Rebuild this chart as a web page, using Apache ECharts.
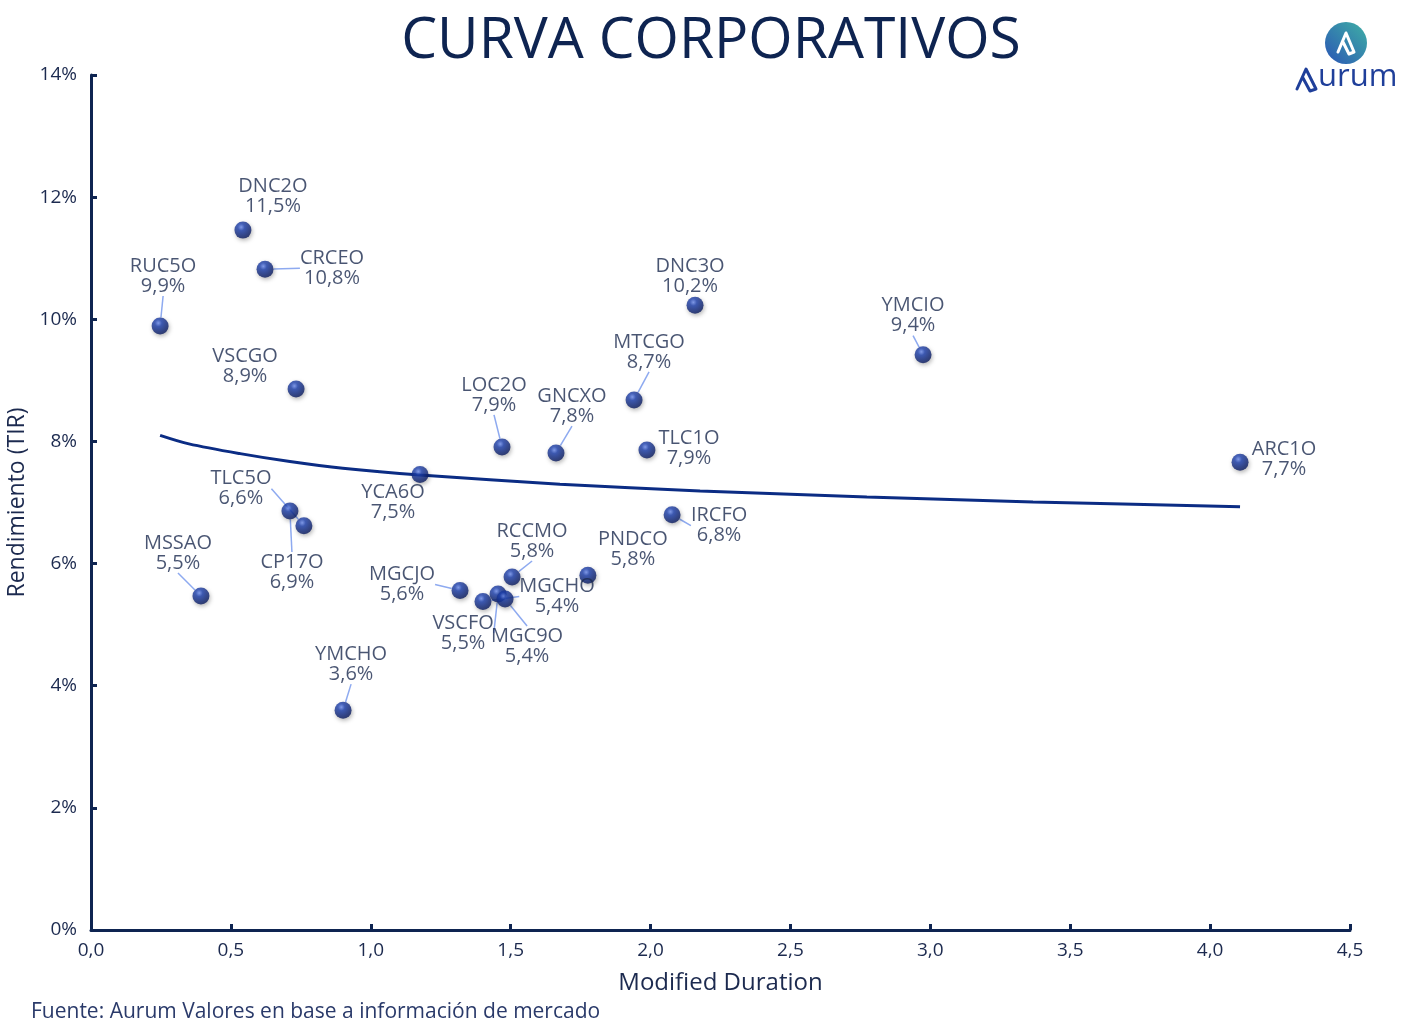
<!DOCTYPE html>
<html>
<head>
<meta charset="utf-8">
<script src="https://cdn.jsdelivr.net/npm/echarts@6/dist/echarts.min.js"></script>
<style>
  html, body { margin: 0; padding: 0; background: #fff; }
  #main { width: 1422px; height: 1033px; }
</style>
</head>
<body>
<div id="main"></div>
<script>
// bonos corporativos: nombre, duration modificada y TIR (%)
var names = ['DNC2O', 'CRCEO', 'RUC5O', 'VSCGO', 'YCA6O', 'TLC5O', 'CP17O', 'MSSAO', 'YMCHO', 'LOC2O', 'GNCXO',
  'MTCGO', 'DNC3O', 'TLC1O', 'IRCFO', 'PNDCO', 'RCCMO', 'MGCJO', 'VSCFO', 'MGCHO', 'MGC9O', 'YMCIO', 'ARC1O'];
var duration = [0.543, 0.622, 0.247, 0.733, 1.176, 0.761, 0.711, 0.393, 0.901, 1.469, 1.662,
  1.941, 2.159, 1.987, 2.077, 1.776, 1.505, 1.319, 1.455, 1.401, 1.480, 2.974, 4.107];
var yields = [11.46, 10.82, 9.89, 8.86, 7.46, 6.62, 6.86, 5.47, 3.60, 7.91, 7.81,
  8.68, 10.23, 7.86, 6.80, 5.81, 5.78, 5.56, 5.50, 5.38, 5.42, 9.42, 7.66];

// curva
var curveX = [0.247, 0.35, 0.533, 0.711, 0.9, 1.176, 1.676, 2.177, 2.773, 3.367, 4.107];
var curveY = [8.10, 7.96, 7.80, 7.67, 7.56, 7.45, 7.30, 7.19, 7.09, 7.01, 6.93];

// ejes
var xTicks = [0, 0.5, 1, 1.5, 2, 2.5, 3, 3.5, 4, 4.5];
var yTicks = [0, 2, 4, 6, 8, 10, 12, 14];

// posicion de etiquetas (px respecto al punto) y si llevan linea guia
var labelOffset = [[30, -34], [67, -1], [3, -50], [-51, -23], [-27, 28], [-63, -37], [2, 61], [-23, -43], [8, -46],
  [-8, -52], [16, -47], [15, -48], [-5, -29], [42, -2], [47, 11], [45, -26], [20, -36], [-58, -6], [-35, 39],
  [74, -5], [22, 47], [-10, -39], [44, -3]];
var leader = [0, 1, 1, 0, 0, 1, 1, 1, 1, 1, 1, 1, 0, 0, 1, 0, 1, 1, 1, 1, 1, 1, 0];

var font = '"Open Sans", Lato, sans-serif';
var navy = '#0e2451';
var txt = '#1c2a4f';

function fmt(v, d) {
  return v.toFixed(d).replace('.', ',');
}

var points = names.map(function (n, i) {
  return {
    name: n,
    value: [duration[i], yields[i]],
    labelLine: { show: !!leader[i] }
  };
});
var curve = curveX.map(function (x, i) { return [x, curveY[i]]; });

var chart = echarts.init(document.getElementById('main'));
var option = {
  animation: false,
  backgroundColor: '#fff',
  title: {
    text: 'CURVA CORPORATIVOS',
    left: 'center',
    top: 8,
    textStyle: { color: navy, fontFamily: font, fontSize: 57, fontWeight: 'normal' }
  },
  grid: { left: 91, right: 72, top: 75, bottom: 103, containLabel: false, outerBoundsMode: 'none' },
  xAxis: {
    type: 'value',
    min: 0,
    max: 4.5,
    interval: 0.5,
    name: 'Modified Duration',
    nameLocation: 'middle',
    nameGap: 41,
    nameTextStyle: { color: txt, fontFamily: font, fontSize: 24 },
    axisLine: { lineStyle: { color: navy, width: 3 } },
    axisTick: { inside: true, length: 6, lineStyle: { color: navy, width: 3 } },
    axisLabel: {
      color: txt, fontFamily: font, fontSize: 19, margin: 11,
      formatter: function (v) { return fmt(v, 1); }
    },
    splitLine: { show: false }
  },
  yAxis: {
    type: 'value',
    min: 0,
    max: 14,
    interval: 2,
    name: 'Rendimiento (TIR)',
    nameLocation: 'middle',
    nameGap: 60,
    nameTextStyle: { color: txt, fontFamily: font, fontSize: 23 },
    axisLine: { show: true, lineStyle: { color: navy, width: 3 } },
    axisTick: { show: true, inside: true, length: 6, lineStyle: { color: navy, width: 3 } },
    axisLabel: {
      color: txt, fontFamily: font, fontSize: 19, margin: 14,
      formatter: function (v) { return v + '%'; }
    },
    splitLine: { show: false }
  },
  series: [{
    name: 'curva',
    type: 'line',
    data: curve,
    smooth: 0.3,
    showSymbol: false,
    z: 1,
    lineStyle: { color: '#0b2c84', width: 3 }
  }, {
    name: 'bonos',
    type: 'scatter',
    data: points,
    symbolSize: 17,
    z: 3,
    itemStyle: {
      color: {
        type: 'radial', x: 0.4, y: 0.33, r: 0.68,
        colorStops: [
          { offset: 0, color: '#6f8ff0' },
          { offset: 0.3, color: '#1d40ad' },
          { offset: 1, color: '#0a1a5c' }
        ]
      },
      shadowBlur: 4,
      shadowOffsetX: 1,
      shadowOffsetY: 2,
      shadowColor: 'rgba(0,0,0,0.35)'
    },
    label: {
      show: true,
      position: 'inside',
      align: 'center',
      verticalAlign: 'middle',
      color: txt,
      fontFamily: font,
      fontSize: 20,
      lineHeight: 20,
      formatter: function (p) { return p.name + '\n' + fmt(p.value[1], 1) + '%'; }
    },
    labelLine: {
      show: true,
      lineStyle: { color: '#8eaaf0', width: 1.5 }
    },
    labelLayout: function (p) {
      var o = labelOffset[p.dataIndex];
      return { dx: o[0], dy: o[1] };
    }
  }],
  graphic: [{
    type: 'text',
    left: 31,
    top: 1002,
    style: {
      text: 'Fuente: Aurum Valores en base a información de mercado',
      fill: '#2a3a6a', font: '21px ' + font
    }
  }, {
    type: 'circle',
    shape: { cx: 1346, cy: 43, r: 21 },
    style: {
      fill: {
        type: 'linear', x: 0, y: 1, x2: 1, y2: 0,
        colorStops: [{ offset: 0, color: '#2a55b5' }, { offset: 1, color: '#3fb0a5' }]
      }
    }
  }, {
    type: 'polyline',
    shape: { points: [[1338, 52], [1346, 33], [1354, 52], [1349, 54], [1343, 42]] },
    style: { stroke: '#fff', lineWidth: 3, fill: null, lineJoin: 'round', lineCap: 'round' }
  }, {
    type: 'polyline',
    shape: { points: [[1297, 89], [1306, 69], [1316, 89], [1310, 91], [1303, 78]] },
    style: { stroke: '#1f3f9a', lineWidth: 3, fill: null, lineJoin: 'round', lineCap: 'round' }
  }, {
    type: 'text',
    left: 1318,
    top: 62,
    style: { text: 'urum', fill: '#1f3f9a', font: '31px ' + font }
  }]
};
chart.setOption(option);
</script>
</body>
</html>
